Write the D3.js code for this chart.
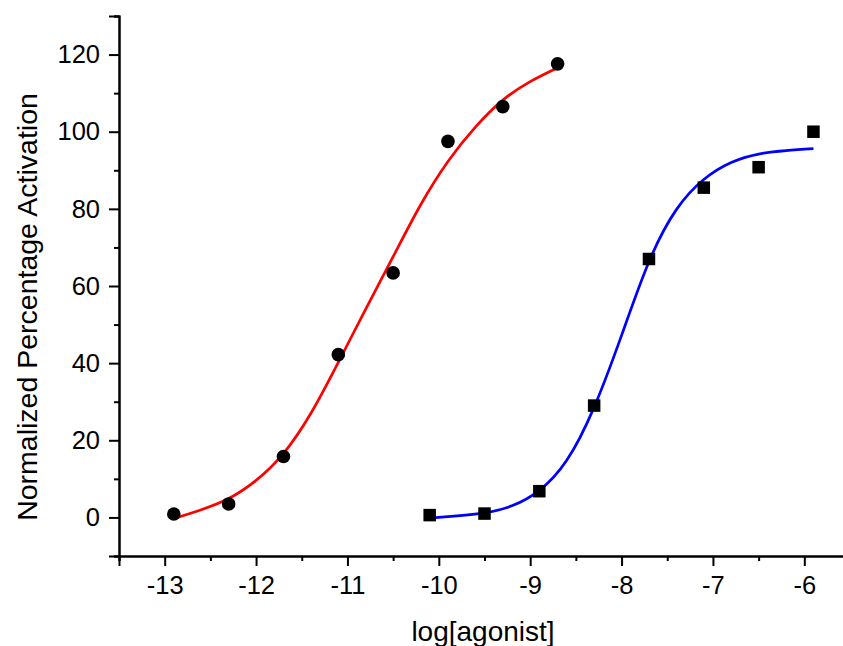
<!DOCTYPE html>
<html>
<head>
<meta charset="utf-8">
<script src="https://cdn.jsdelivr.net/npm/d3@7"></script>
<style>
  body { margin: 0; background: #fff; }
  svg { display: block; font-family: "Liberation Sans", Arial, sans-serif; }
</style>
</head>
<body>
<svg id="chart" width="843" height="646"></svg>
<script>
// measured points (log[agonist] vs % activation)
const redX = [-12.9, -12.3, -11.7, -11.1, -10.5, -9.9, -9.3, -8.7];
const redY = [0.9, 3.5, 15.8, 42.2, 63.4, 97.5, 106.5, 117.6];
const blueX = [-10.1, -9.5, -8.9, -8.3, -7.7, -7.1, -6.5, -5.9];
const blueY = [0.6, 1.0, 6.8, 29.0, 67.0, 85.5, 90.8, 100.0];

// fitted curves, every 0.3 log units
const redFitX = [-12.9, -12.6, -12.3, -12.0, -11.7, -11.4, -11.1, -10.8, -10.5, -10.2, -9.9, -9.6, -9.3, -9.0, -8.7];
const redFitY = [-0.3, 2.0, 4.9, 9.6, 16.6, 27.0, 40.2, 54.0, 67.6, 81.0, 92.3, 101.2, 108.2, 113.0, 116.6];
const blueFitX = [-10.1, -9.8, -9.5, -9.2, -8.9, -8.6, -8.3, -8.0, -7.7, -7.4, -7.1, -6.8, -6.5, -6.2, -5.9];
const blueFitY = [-0.2, 0.4, 1.2, 3.0, 7.0, 14.8, 28.6, 47.2, 66.3, 79.8, 87.6, 92.0, 94.2, 95.1, 95.6];

const xTicks = [-13, -12, -11, -10, -9, -8, -7, -6];
const yTicks = [0, 20, 40, 60, 80, 100, 120];

const svg = d3.select("#chart");

const x = d3.scaleLinear().domain([-13.5, -5.5]).range([119, 850]);
const y = d3.scaleLinear().domain([-10, 130]).range([556, 16]);

const g = svg.append("g");

// axes
const xAxis = d3.axisBottom(x).tickValues(xTicks).tickSize(10).tickPadding(10)
  .tickFormat((d) => "-" + Math.abs(d));
const xMinor = d3.axisBottom(x).tickValues(d3.range(-13.5, -5.4, 1)).tickSize(5).tickFormat("");
const yAxis = d3.axisLeft(y).tickValues(yTicks).tickSize(10).tickPadding(9).tickFormat(d3.format("d"));
const yMinor = d3.axisLeft(y).tickValues(d3.range(-10, 131, 20)).tickSize(5).tickFormat("");

function styleAxis(sel) {
  sel.select(".domain").attr("stroke", "#000").attr("stroke-width", 2);
  sel.selectAll(".tick line").attr("stroke", "#000").attr("stroke-width", 2);
  sel.selectAll(".tick text").attr("fill", "#000").style("font-size", "25.5px")
    .style("font-family", "'Liberation Sans', Arial, sans-serif");
}

g.append("g").attr("transform", `translate(0,${y(-10)})`).call(xMinor).call(styleAxis);
g.append("g").attr("transform", `translate(0,${y(-10)})`).call(xAxis).call(styleAxis);
g.append("g").attr("transform", `translate(${x(-13.5)},0)`).call(yMinor).call(styleAxis);
g.append("g").attr("transform", `translate(${x(-13.5)},0)`).call(yAxis).call(styleAxis);

// titles
svg.append("text")
  .attr("x", 483).attr("y", 641)
  .attr("text-anchor", "middle")
  .style("font-size", "28px")
  .text("log[agonist]");

svg.append("text")
  .attr("transform", "translate(37,307) rotate(-90)")
  .attr("text-anchor", "middle")
  .style("font-size", "28.5px")
  .text("Normalized Percentage Activation");

// fit curves
const line = d3.line().x((d) => x(d[0])).y((d) => y(d[1])).curve(d3.curveNatural);

g.append("path")
  .datum(d3.zip(redFitX, redFitY))
  .attr("d", line)
  .attr("fill", "none")
  .attr("stroke", "#ff0000")
  .attr("stroke-width", 2.7);

g.append("path")
  .datum(d3.zip(blueFitX, blueFitY))
  .attr("d", line)
  .attr("fill", "none")
  .attr("stroke", "#0000ff")
  .attr("stroke-width", 2.7);

// markers
g.selectAll(".dot")
  .data(d3.zip(redX, redY))
  .join("circle")
  .attr("class", "dot")
  .attr("cx", (d) => x(d[0]))
  .attr("cy", (d) => y(d[1]))
  .attr("r", 6.8)
  .attr("fill", "#000");

const sq = 12.5;
g.selectAll(".sq")
  .data(d3.zip(blueX, blueY))
  .join("rect")
  .attr("class", "sq")
  .attr("x", (d) => x(d[0]) - sq / 2)
  .attr("y", (d) => y(d[1]) - sq / 2)
  .attr("width", sq)
  .attr("height", sq)
  .attr("fill", "#000");
</script>
</body>
</html>
